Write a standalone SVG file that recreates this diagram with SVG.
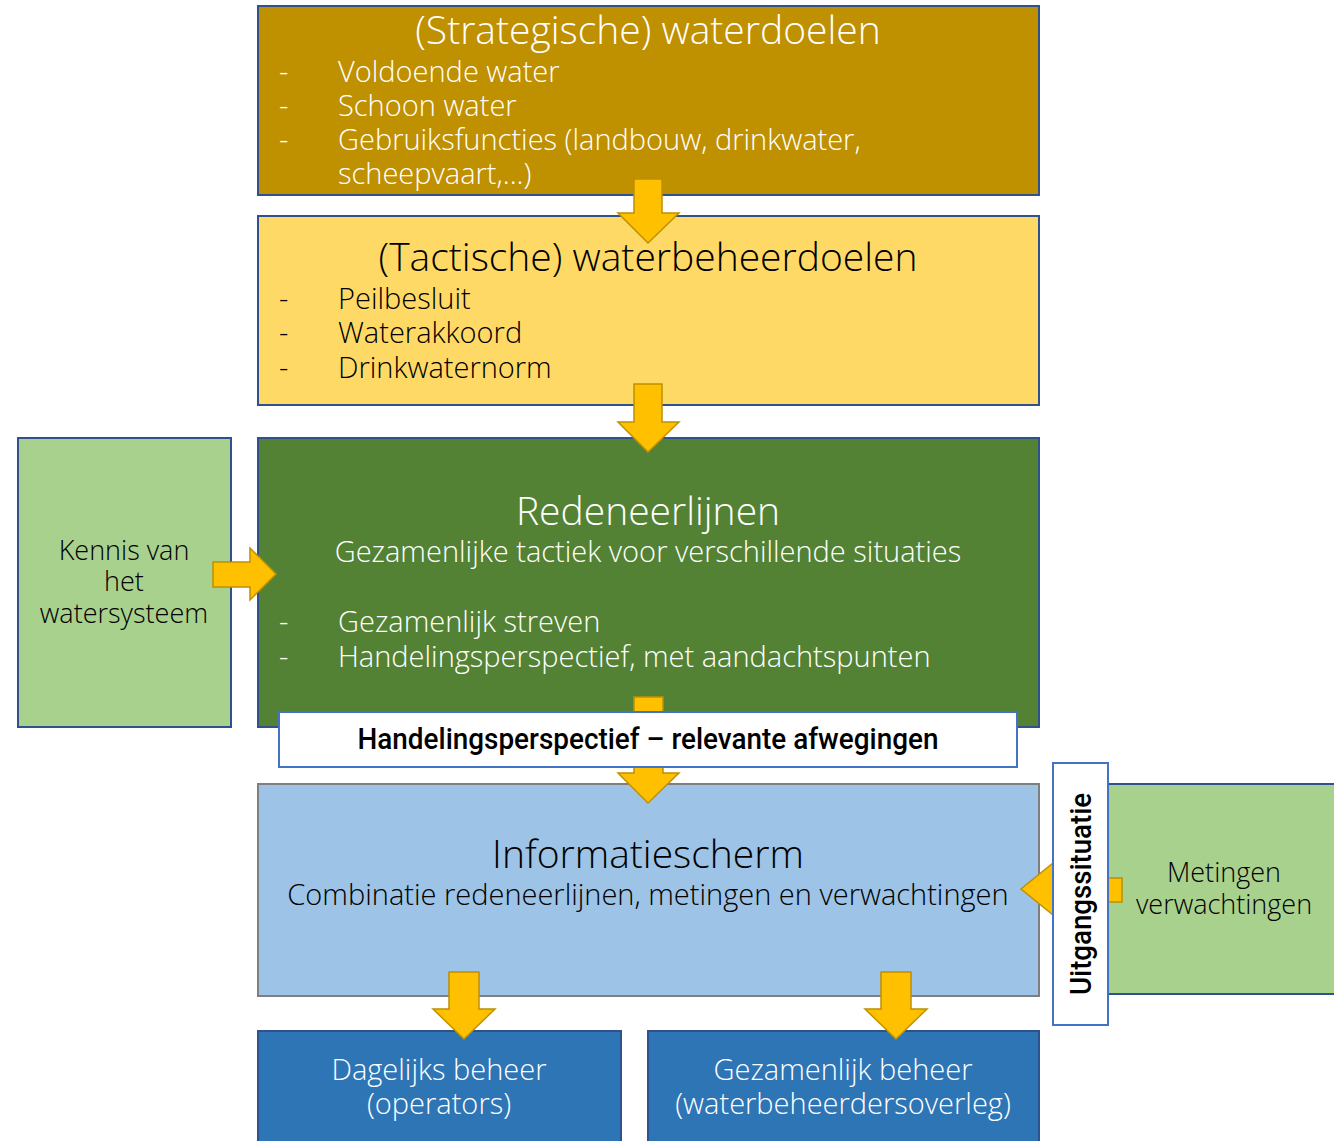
<svg xmlns="http://www.w3.org/2000/svg" width="1334" height="1141" viewBox="0 0 1334 1141">
  <style>
    .box { stroke: #2F528F; stroke-width: 2; }
    .t { font-family: "Open Sans", "Liberation Sans", sans-serif; font-weight: 300; }
    .h1 { font-size: 39px; }
    .b { font-size: 29px; }
    .s { font-size: 27px; }
    .c { text-anchor: middle; }
    .w { fill: #FFFFFF; }
    .k { fill: #000000; }
    .arrow { fill: #FFC000; stroke: #BF9000; stroke-width: 1.5; stroke-linejoin: miter; }
    .cond { font-family: "Roboto", "Liberation Sans", sans-serif; font-weight: 500; font-size: 30px; fill: #000; }
  </style>

  <rect width="1334" height="1141" fill="#FFFFFF"/>

  <!-- strategic goals -->
  <g id="strategisch">
    <rect class="box" x="258" y="6" width="781" height="189" fill="#BF9000"/>
    <text class="t h1 c w" x="648" y="44">(Strategische) waterdoelen</text>
    <g class="t b w">
      <text x="279" y="82">-</text><text x="338" y="82">Voldoende water</text>
      <text x="279" y="116">-</text><text x="338" y="116">Schoon water</text>
      <text x="279" y="150">-</text><text x="338" y="150">Gebruiksfuncties (landbouw, drinkwater,</text>
      <text x="338" y="184">scheepvaart,...)</text>
    </g>
  </g>

  <!-- tactical goals -->
  <g id="tactisch">
    <rect class="box" x="258" y="216" width="781" height="189" fill="#FFD966"/>
    <text class="t h1 c k" x="648" y="271">(Tactische) waterbeheerdoelen</text>
    <g class="t b k">
      <text x="279" y="309">-</text><text x="338" y="309">Peilbesluit</text>
      <text x="279" y="343">-</text><text x="338" y="343">Waterakkoord</text>
      <text x="279" y="378">-</text><text x="338" y="378">Drinkwaternorm</text>
    </g>
  </g>

  <!-- knowledge of the water system -->
  <g id="kennis">
    <rect class="box" x="18" y="438" width="213" height="289" fill="#A9D18E"/>
    <g class="t s c k">
      <text x="124" y="560">Kennis van</text>
      <text x="124" y="591">het</text>
      <text x="124" y="623">watersysteem</text>
    </g>
  </g>

  <!-- lines of reasoning -->
  <g id="redeneerlijnen">
    <rect class="box" x="258" y="438" width="781" height="289" fill="#548235"/>
    <text class="t h1 c w" x="648" y="525">Redeneerlijnen</text>
    <text class="t b c w" x="648" y="562">Gezamenlijke tactiek voor verschillende situaties</text>
    <g class="t b w">
      <text x="279" y="632">-</text><text x="338" y="632">Gezamenlijk streven</text>
      <text x="279" y="667">-</text><text x="338" y="667">Handelingsperspectief, met aandachtspunten</text>
    </g>
  </g>

  <!-- information screen -->
  <g id="informatiescherm">
    <rect x="258" y="784" width="781" height="212" fill="#9DC3E6" stroke="#7F7F7F" stroke-width="2"/>
    <text class="t c k" font-size="39" x="648" y="868">Informatiescherm</text>
    <text class="t b c k" x="648" y="905">Combinatie redeneerlijnen, metingen en verwachtingen</text>
  </g>

  <!-- measurements and forecasts -->
  <g id="metingen">
    <rect class="box" x="1108" y="784" width="240" height="210" fill="#A9D18E"/>
    <g class="t s c k">
      <text x="1224" y="882">Metingen</text>
      <text x="1224" y="914">verwachtingen</text>
    </g>
  </g>

  <!-- operational management -->
  <g id="dagelijks">
    <rect class="box" x="258" y="1031" width="363" height="120" fill="#2E75B6"/>
    <g class="t b c w">
      <text x="439" y="1080">Dagelijks beheer</text>
      <text x="439" y="1114">(operators)</text>
    </g>
  </g>

  <g id="gezamenlijk">
    <rect class="box" x="648" y="1031" width="391" height="120" fill="#2E75B6"/>
    <g class="t b c w">
      <text x="843" y="1080">Gezamenlijk beheer</text>
      <text x="843" y="1114">(waterbeheerdersoverleg)</text>
    </g>
  </g>

  <!-- block arrows -->
  <g id="connectors">
    <path class="arrow" d="M634,179 H662 V213 H679 L648,243 L618,213 H634 Z"/>
    <path class="arrow" d="M634,384 H662 V422 H679 L648,452 L618,422 H634 Z"/>
    <path class="arrow" d="M213,562 H250 V548 L276,574 L250,600 V587 H213 Z"/>
    <path class="arrow" d="M634,697 H663 V773 H679 L648,803 L618,773 H634 Z"/>
    <path class="arrow" d="M1122,878 V902 H1053 V915 L1021,889 L1053,863 V878 Z"/>
    <path class="arrow" d="M449,972 H479 V1009 H495 L464,1039 L433,1009 H449 Z"/>
    <path class="arrow" d="M881,972 H911 V1009 H927 L896,1039 L865,1009 H881 Z"/>
  </g>

  <!-- label bar over the arrow -->
  <g id="afwegingen">
    <rect x="279" y="712" width="738" height="55" fill="#FFFFFF" stroke="#4472C4" stroke-width="2"/>
    <text class="cond c" x="648" y="749" textLength="581" lengthAdjust="spacingAndGlyphs">Handelingsperspectief – relevante afwegingen</text>
  </g>

  <!-- vertical label -->
  <g id="uitgangssituatie">
    <rect x="1053" y="763" width="55" height="262" fill="#FFFFFF" stroke="#4472C4" stroke-width="2"/>
    <text class="cond c" transform="translate(1091,894) rotate(-90)" x="0" y="0" textLength="202" lengthAdjust="spacingAndGlyphs">Uitgangssituatie</text>
  </g>
</svg>
